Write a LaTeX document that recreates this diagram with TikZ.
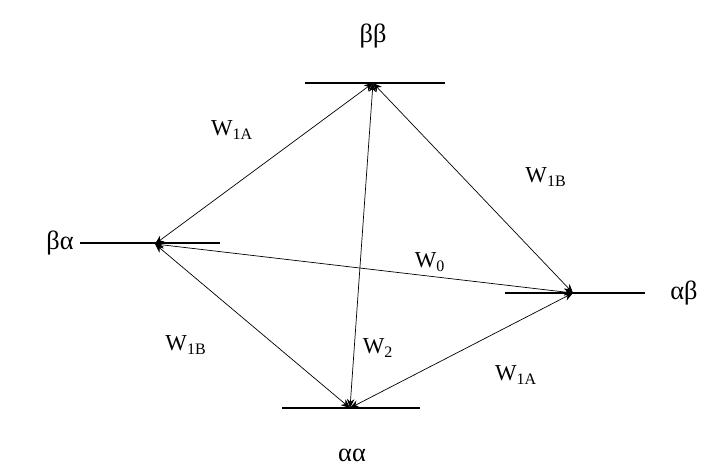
\documentclass[tikz,border=0pt]{standalone}
\usepackage{fontspec}
\setmainfont{Liberation Serif}
\usetikzlibrary{arrows.meta, positioning, calc}
\tikzset{
	level/.style    ={semithick},
	trans/.style    ={{Stealth[length=1.8mm,width=1.5mm]}-{Stealth[length=1.8mm,width=1.5mm]}, thin},
	statelbl/.style ={font=\fontsize{15}{17}\selectfont},
	ratelbl/.style  ={font=\fontsize{13}{15}\selectfont},
}
\begin{document}
\begin{tikzpicture}[x=0.02cm, y=-0.02cm]
					\useasboundingbox (0,0) rectangle (707,470);
					% energy levels
					\coordinate (bb) at (373,83);
					\coordinate (ba) at (155,244);
					\coordinate (ab) at (573,293);
					\coordinate (aa) at (350,408);
					\draw[level] ($(bb)+(-68,0)$) -- ($(bb)+(72,0)$);
					\draw[level] ($(ba)+(-75,-1)$) -- ($(ba)+(65,-1)$);
					\draw[level] ($(ab)+(-68,0)$) -- ($(ab)+(72,0)$);
					\draw[level] ($(aa)+(-68,0)$) -- ($(aa)+(70,0)$);
					% state labels
					\node[statelbl] (lbb) at (373,36) {ββ};
					\node[statelbl] (lba) at (60,243) {βα};
					\node[statelbl] (lab) at (684,293) {αβ};
					\node[statelbl] (laa) at (352,455) {αα};
					% transitions
					\draw[trans] (ba) -- (bb);
					\draw[trans] (bb) -- (ab);
					\draw[trans] (ba) -- (ab);
					\draw[trans] (bb) -- (aa);
					\draw[trans] (ba) -- (aa);
					\draw[trans] (aa) -- (ab);
					% rate labels
					\node[ratelbl] (w1a) at (232,130) {W\textsubscript{1A}};
					\node[ratelbl] (w1b) at (546,177) {W\textsubscript{1B}};
					\node[ratelbl] (w0) at (430,262) {W\textsubscript{0}};
					\node[ratelbl] (w2) at (378,348) {W\textsubscript{2}};
					\node[ratelbl] (w1bb) at (186,345) {W\textsubscript{1B}};
					\node[ratelbl] (w1ab) at (516,375) {W\textsubscript{1A}};
				\end{tikzpicture}
\end{document}
